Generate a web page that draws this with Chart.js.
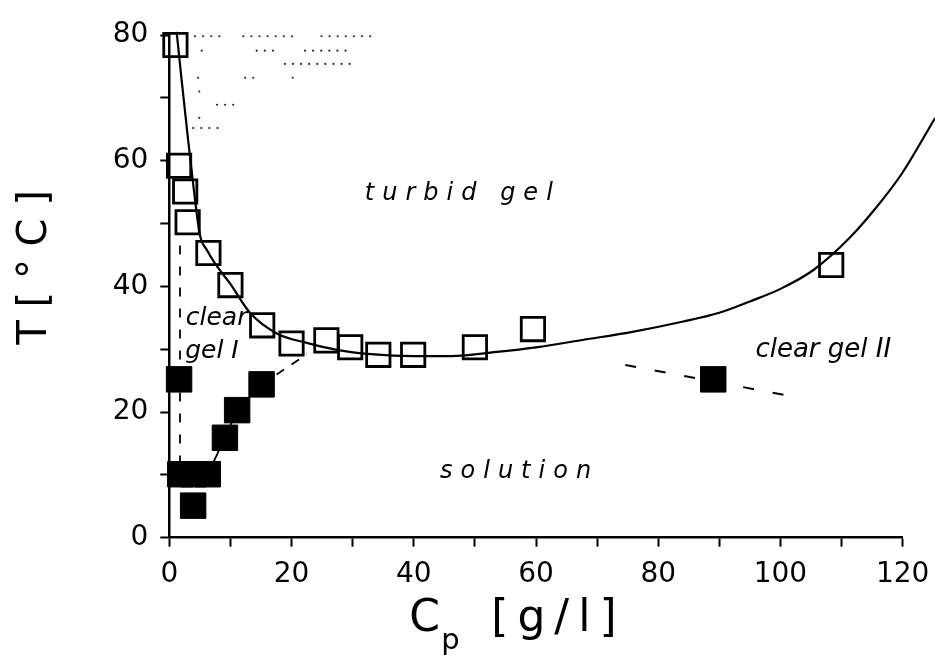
<!DOCTYPE html>
<html>
<head>
<meta charset="utf-8">
<title>Phase diagram T vs Cp</title>
<script src="https://cdn.jsdelivr.net/npm/chart.js@4.4.1/dist/chart.umd.min.js"></script>
<style>
  html, body { margin: 0; padding: 0; background: #fff; }
  #wrap { width: 935px; height: 655px; }
</style>
</head>
<body>
<div id="wrap"><canvas id="phase" width="935" height="655"></canvas></div>
<script>
// ---- data ----

// open squares (turbid gel boundary)
const openX = [1.0, 1.6, 2.6, 3.0, 6.4, 10.0, 15.2, 20.0, 25.7, 29.6, 34.2, 39.9, 50.0, 59.5, 108.3];
const openY = [78.4, 59.2, 55.1, 50.2, 45.3, 40.2, 33.8, 30.9, 31.4, 30.3, 29.1, 29.1, 30.3, 33.2, 43.4];

// filled squares (gel / solution boundary)
const filledX = [1.6, 1.8, 4.0, 6.3, 3.9, 9.1, 11.1, 15.1, 89.0];
const filledY = [25.2, 10.1, 10.1, 10.1, 5.1, 15.9, 20.3, 24.4, 25.2];

// solid guide curve through the open squares (runs past the axis end)
const fitX = [1.2, 2.0, 3.0, 4.0, 5.0, 6.2, 7.5, 9.9, 13.2, 17.6, 22.5, 27.4, 33, 40, 46, 54, 60, 67.8, 76, 84.1, 90, 95, 100, 105.4, 111.2, 115.8, 119.9, 125.3];
const fitY = [80.5, 73, 64, 55.5, 48.2, 45.7, 43.6, 40.5, 35.8, 32.5, 31.0, 29.9, 29.2, 28.9, 28.9, 29.6, 30.3, 31.5, 32.8, 34.4, 35.8, 37.6, 39.6, 42.6, 47.6, 52.7, 58.0, 66.8];

// lower branch (solid) and its dashed continuation
const branchX = [6.3, 9.1, 11.1, 15.1];
const branchY = [10.1, 15.9, 20.3, 24.4];
const branchExtX = [15.1, 22.5];
const branchExtY = [24.4, 29.2];

// dashed vertical at low concentration, dashed line through clear gel II point
const leftDashX = [1.75, 1.75];
const leftDashY = [46.5, 10];
const rightDashX = [74.6, 100.8];
const rightDashY = [27.5, 22.7];

// faint dotted traces in the upper left corner: [from x, to x, y]
const dotRuns = [
  [4.2, 8.3, 79.8], [12.1, 20.1, 79.8], [24.9, 33.2, 79.8],
  [14.3, 17.0, 77.5], [22.2, 30.1, 77.5],
  [18.9, 29.9, 75.4],
  [12.4, 14.0, 73.2],
  [7.8, 11.6, 68.9],
  [3.9, 8.3, 65.2]
];
const dotSingleX = [5.3, 4.7, 20.2, 4.9, 4.9];
const dotSingleY = [77.5, 73.2, 73.2, 71.0, 66.8];

// ticks
const xTickLabels = [0, 20, 40, 60, 80, 100, 120];
const yTickLabels = [0, 20, 40, 60, 80];

// phase labels
const labelText = ['turbid gel', 'solution', 'clear', 'gel I', 'clear gel II'];
const labelX = [32.0, 44.3, 2.7, 2.6, 95.9];
const labelY = [53.8, 9.5, 33.9, 28.6, 28.8];

// ---- helpers ----
const INK = '#000';
const FONT = '"DejaVu Sans", "Liberation Sans", sans-serif';

function pts(xs, ys) {
  return xs.map((x, i) => ({ x, y: ys[i] }));
}

function runsToPoints(runs) {
  const out = [];
  runs.forEach(r => {
    out.push({ x: r[0], y: r[2] }, { x: r[1], y: r[2] }, { x: r[1], y: null });
  });
  return out;
}

function lineSet(data, opts) {
  return Object.assign({
    data,
    showLine: true,
    borderColor: INK,
    borderWidth: 2,
    pointRadius: 0,
    fill: false,
    clip: false,
    order: 5
  }, opts);
}

// phase labels drawn at data coordinates
const phaseLabels = {
  id: 'phaseLabels',
  afterDatasetsDraw(chart) {
    const { ctx, scales: { x, y } } = chart;
    ctx.save();
    ctx.fillStyle = INK;
    ctx.textAlign = 'left';
    ctx.textBaseline = 'alphabetic';
    labelText.forEach((t, i) => {
      const spaced = i < 2;
      ctx.font = (spaced ? 'italic 24px ' : (i === 4 ? 'italic 26px ' : 'italic 25px ')) + FONT;
      ctx.letterSpacing = spaced ? '8px' : '0px';
      ctx.fillText(t, x.getPixelForValue(labelX[i]), y.getPixelForValue(labelY[i]));
    });
    ctx.restore();
  }
};

// axis titles (the x title needs a subscript)
const axisTitles = {
  id: 'axisTitles',
  afterDraw(chart) {
    const { ctx, chartArea } = chart;
    ctx.save();
    ctx.fillStyle = INK;
    ctx.textBaseline = 'alphabetic';

    // y title, rotated
    ctx.translate(chartArea.left - 123, (chartArea.top + chartArea.bottom) / 2 - 19);
    ctx.rotate(-Math.PI / 2);
    ctx.textAlign = 'center';
    ctx.font = '40px ' + FONT;
    ctx.fillText('T [ \u00b0 C ]', 0, 0);
    ctx.setTransform(1, 0, 0, 1, 0, 0);

    // x title: C_p [ g / l ]
    const base = chartArea.bottom + 93;
    ctx.textAlign = 'left';
    ctx.font = '44px ' + FONT;
    ctx.fillText('C', chartArea.left + 240, base);
    ctx.font = '29px ' + FONT;
    ctx.fillText('p', chartArea.left + 272, base + 18);
    ctx.font = '44px ' + FONT;
    ctx.letterSpacing = '-2.5px';
    ctx.fillText('[ g / l ]', chartArea.left + 322, base);
    ctx.restore();
  }
};

function stripPadding(scale) {
  scale.paddingTop = 0;
  scale.paddingBottom = 0;
  scale.paddingLeft = 0;
  scale.paddingRight = 0;
}

const axisCommon = {
  type: 'linear',
  border: { display: true, color: INK, width: 2.5 },
  grid: { drawOnChartArea: false, drawTicks: true, tickLength: 9, tickColor: INK, tickWidth: 2 },
  ticks: { color: INK, font: { family: FONT, size: 28 }, stepSize: 10 }
};

new Chart(document.getElementById('phase'), {
  type: 'scatter',
  data: {
    datasets: [
      {
        data: pts(openX, openY),
        pointStyle: 'rect',
        pointRadius: 16.5,
        pointBorderWidth: 2.8,
        pointBorderColor: INK,
        pointBackgroundColor: 'rgba(0,0,0,0)',
        clip: false,
        order: 0
      },
      {
        data: pts(filledX, filledY),
        pointStyle: 'rect',
        pointRadius: 18,
        pointBorderWidth: 1,
        pointBorderColor: INK,
        pointBackgroundColor: INK,
        clip: false,
        order: 1
      },
      lineSet(pts(fitX, fitY), { cubicInterpolationMode: 'monotone', borderWidth: 2.2 }),
      lineSet(pts(branchX, branchY), { borderWidth: 1.8 }),
      lineSet(pts(branchExtX, branchExtY), { borderDash: [9, 9], borderWidth: 1.8 }),
      lineSet(pts(leftDashX, leftDashY), { borderDash: [9, 12], borderWidth: 1.8 }),
      lineSet(pts(rightDashX, rightDashY), { borderDash: [11, 19], borderWidth: 2 }),
      lineSet(runsToPoints(dotRuns), {
        borderDash: [0.1, 8], borderWidth: 2.2, borderCapStyle: 'round',
        borderColor: '#333', spanGaps: false
      }),
      {
        data: pts(dotSingleX, dotSingleY),
        pointStyle: 'circle',
        pointRadius: 1.1,
        pointBorderWidth: 0,
        pointBackgroundColor: '#333',
        order: 6
      }
    ]
  },
  options: {
    responsive: false,
    animation: false,
    events: [],
    devicePixelRatio: 1,
    layout: { padding: { left: 0, right: 32.3, top: 35, bottom: 0 } },
    plugins: { legend: { display: false }, tooltip: { enabled: false } },
    scales: {
      x: Object.assign({}, axisCommon, {
        min: 0, max: 120,
        ticks: Object.assign({}, axisCommon.ticks, {
          padding: 11, maxRotation: 0,
          callback: v => xTickLabels.includes(v) ? String(v) : ''
        }),
        afterFit: s => { s.height = 117.3; stripPadding(s); }
      }),
      y: Object.assign({}, axisCommon, {
        min: 0, max: 80,
        ticks: Object.assign({}, axisCommon.ticks, {
          padding: 12,
          callback: v => yTickLabels.includes(v) ? String(v) : ''
        }),
        afterFit: s => { s.width = 169.3; stripPadding(s); }
      })
    }
  },
  plugins: [phaseLabels, axisTitles]
});
</script>
</body>
</html>
